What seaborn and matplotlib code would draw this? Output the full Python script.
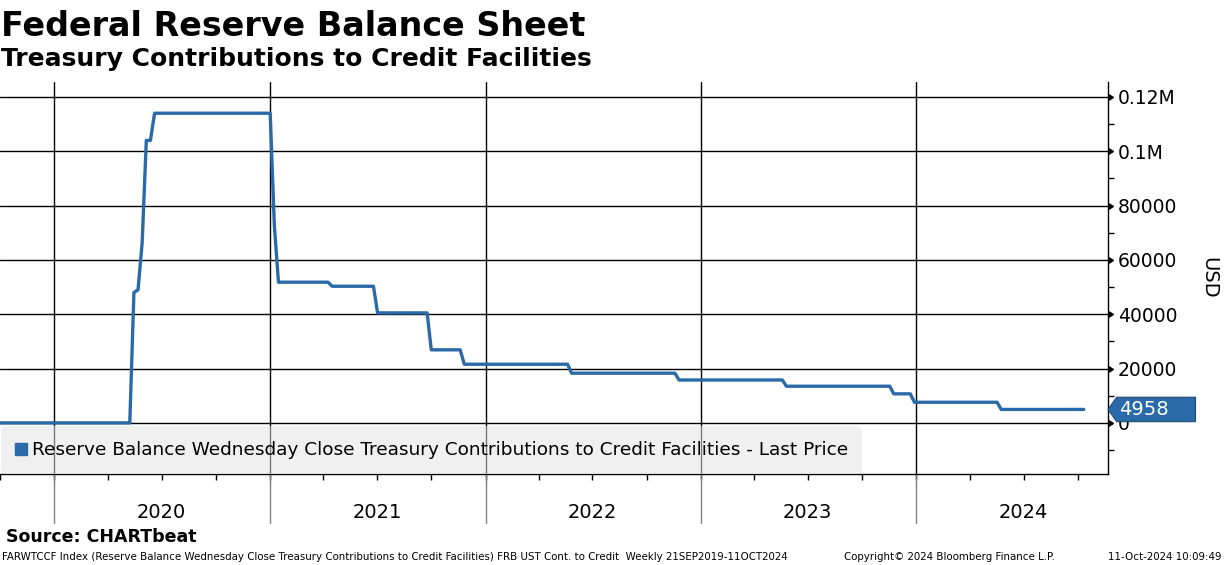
import numpy as np
import pandas as pd
import matplotlib
matplotlib.use('Agg')
import matplotlib.pyplot as plt
import matplotlib.dates as mdates
import matplotlib.transforms as mtransforms
import matplotlib.markers as mmarkers
from matplotlib.ticker import FixedLocator, FixedFormatter, NullFormatter, MultipleLocator
from matplotlib.lines import Line2D
from matplotlib.path import Path
import seaborn as sns

# weekly series, only the points where the level changes (USD millions)
dates = ['2019-09-20', '2020-05-08', '2020-05-15', '2020-05-22', '2020-05-29', '2020-06-05',
         '2020-06-12', '2020-06-19', '2021-01-01', '2021-01-08', '2021-01-15', '2021-04-09',
         '2021-04-16', '2021-06-25', '2021-07-02', '2021-09-24', '2021-10-01', '2021-11-19',
         '2021-11-26', '2022-05-20', '2022-05-27', '2022-11-18', '2022-11-25', '2023-05-19',
         '2023-05-26', '2023-11-17', '2023-11-24', '2023-12-22', '2023-12-29', '2024-05-17',
         '2024-05-24', '2024-10-11']
values = [0, 0, 48000, 49000, 66500, 104000,
          104000, 114000, 114000, 72700, 51800, 51800,
          50300, 50300, 40500, 40500, 26900, 26900,
          21600, 21600, 18300, 18300, 15800, 15800,
          13500, 13500, 10700, 10700, 7600, 7600,
          4958, 4958]
years = [2020, 2021, 2022, 2023, 2024]
ytick_vals = [0, 20000, 40000, 60000, 80000, 100000, 120000]
ytick_labels = ['0', '20000', '40000', '60000', '80000', '0.1M', '0.12M']
series_name = 'Reserve Balance Wednesday Close Treasury Contributions to Credit Facilities - Last Price'

BLUE = '#2b6aa8'

df = pd.DataFrame({'date': pd.to_datetime(dates), 'usd': values})

sns.set_theme(style='white')
plt.rcParams['font.family'] = ['DejaVu Sans']
plt.rcParams.update({'text.color': 'black', 'axes.labelcolor': 'black',
                     'xtick.color': 'black', 'ytick.color': 'black'})

fig = plt.figure(figsize=(12.24, 5.65), dpi=100)
ax = fig.add_axes([0, 0.1611, 0.9052, 0.6938])

sns.lineplot(data=df, x='date', y='usd', ax=ax, color=BLUE, linewidth=2.4,
             estimator=None, legend=False, zorder=3)

ax.set_xlim(pd.Timestamp('2019-10-01'), pd.Timestamp('2024-11-21'))
ax.set_ylim(-18800, 125500)
ax.set_xlabel('')

# right hand y axis
ax.yaxis.tick_right()
ax.yaxis.set_label_position('right')
ax.set_yticks(ytick_vals)
ax.set_yticklabels(ytick_labels)
ax.yaxis.set_minor_locator(MultipleLocator(10000))
ax.tick_params(axis='y', which='major', direction='out', length=5, width=1,
               colors='black', labelsize=13.5, pad=2, right=True, left=False)
ax.tick_params(axis='y', which='minor', direction='out', length=4, width=1,
               colors='black', right=True, left=False)
for t in ax.yaxis.get_major_ticks():
    t.tick2line.set_marker(mmarkers.CARETRIGHTBASE)
    t.tick2line.set_markersize(5)
ax.set_ylabel('USD', rotation=270, fontsize=14, labelpad=16, va='bottom', color='black')
ax.grid(axis='y', which='major', color='black', linewidth=1, zorder=1)

# x axis: quarterly ticks, year labels mid-year
ax.xaxis.set_major_locator(mdates.MonthLocator(bymonth=[1, 4, 7, 10]))
ax.xaxis.set_major_formatter(NullFormatter())
ax.xaxis.set_minor_locator(FixedLocator([mdates.date2num(pd.Timestamp(f'{y}-07-01')) for y in years]))
ax.xaxis.set_minor_formatter(FixedFormatter([str(y) for y in years]))
ax.xaxis.remove_overlapping_locs = False
ax.tick_params(axis='x', which='major', direction='out', length=4, width=1,
               colors='black', bottom=True)
ax.tick_params(axis='x', which='minor', length=0, pad=21, labelsize=14, bottom=True,
               labelcolor='black')

below = mtransforms.blended_transform_factory(ax.transData, ax.transAxes)
for y in years:
    d = pd.Timestamp(f'{y}-01-01')
    ax.axvline(d, color='black', linewidth=1, zorder=1)
    ax.plot([d, d], [0, -0.125], transform=below, color='#808080', linewidth=1, clip_on=False)

for s in ['left', 'top']:
    ax.spines[s].set_visible(False)
for s in ['right', 'bottom']:
    ax.spines[s].set_color('black')
    ax.spines[s].set_linewidth(1)

# legend
handle = Line2D([], [], marker='s', color=BLUE, linestyle='none', markersize=9)
leg = ax.legend([handle], [series_name], loc='lower left', bbox_to_anchor=(0.001, 0.0),
                fontsize=13.3, frameon=True, fancybox=True, framealpha=0.55,
                facecolor='#e4e4e4', edgecolor='none', handlelength=0.6,
                handletextpad=0.25, borderpad=0.8, borderaxespad=0)
leg.get_frame().set_boxstyle('round,pad=0,rounding_size=0.3')
for txt in leg.get_texts():
    txt.set_color('black')


# last price tag
def tag_box(x0, y0, width, height, mutation_size):
    p = 0.14 * mutation_size
    y0 -= p
    y1 = y0 + height + 2 * p
    ym = (y0 + y1) / 2
    xs = x0 - 0.1 * mutation_size
    xl = xs - 0.45 * mutation_size
    xr = x0 + width + 1.4 * mutation_size
    return Path([(xl, ym), (xs, y1), (xr, y1), (xr, y0), (xs, y0), (xl, ym)], closed=True)


last = df['usd'].iloc[-1]
tag_trans = mtransforms.blended_transform_factory(ax.transAxes, ax.transData)
ax.annotate(f'{last:.0f}', xy=(1.0, last), xycoords=tag_trans, xytext=(7.7, 0),
            textcoords='offset points', ha='left', va='center', color='white',
            fontsize=14, annotation_clip=False, zorder=5,
            bbox=dict(boxstyle=tag_box, fc=BLUE, ec='#1d4a78', lw=0.8))

# titles and footer
fig.text(0.001, 0.982, 'Federal Reserve Balance Sheet', fontsize=24, fontweight='bold', va='top', ha='left')
fig.text(0.001, 0.916, 'Treasury Contributions to Credit Facilities', fontsize=18, fontweight='bold',
         va='top', ha='left')
fig.text(0.005, 0.049, 'Source: CHARTbeat', fontsize=12.5, fontweight='bold', va='center', ha='left')
fig.text(0.002, 0.014, 'FARWTCCF Index (Reserve Balance Wednesday Close Treasury Contributions to Credit '
         'Facilities) FRB UST Cont. to Credit  Weekly 21SEP2019-11OCT2024',
         fontsize=7.35, va='center', ha='left')
fig.text(0.6895, 0.014, 'Copyright\u00a9 2024 Bloomberg Finance L.P.', fontsize=7.35, va='center', ha='left')
fig.text(0.998, 0.014, '11-Oct-2024 10:09:49', fontsize=7.35, va='center', ha='right')

fig.savefig('out.png', dpi=100)
